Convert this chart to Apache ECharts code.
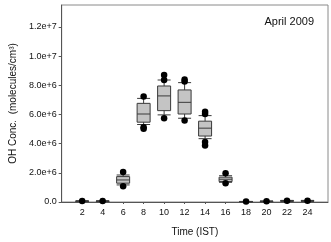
<!DOCTYPE html>
<html>
<head>
<meta charset="utf-8">
<script src="https://cdn.jsdelivr.net/npm/echarts@6/dist/echarts.min.js"></script>
<style>
    html, body { margin: 0; padding: 0; background: #fff; }
    #chart { width: 331px; height: 242px; }
</style>
</head>
<body>
<div id="chart"></div>
<script>
// hours (IST); 0 and 26 are only padding slots on the axis
var hours = ['0', '2', '4', '6', '8', '10', '12', '14', '16', '18', '20', '22', '24', '26'];

// [hour, lower whisker, Q1, median, Q3, upper whisker], molecules/cm3
var boxStats = [
    ['2', 30000, 45000, 55000, 65000, 80000],
    ['4', 30000, 45000, 55000, 65000, 80000],
    ['6', 1170000, 1290000, 1510000, 1740000, 1850000],
    ['8', 5310000, 5470000, 6030000, 6760000, 7100000],
    ['10', 5970000, 6260000, 7270000, 7950000, 8360000],
    ['12', 5740000, 6030000, 6830000, 7680000, 8180000],
    ['14', 4340000, 4520000, 5060000, 5540000, 5920000],
    ['16', 1350000, 1400000, 1560000, 1700000, 1800000],
    ['18', 10000, 20000, 25000, 30000, 40000],
    ['20', 20000, 35000, 45000, 55000, 65000],
    ['22', 40000, 60000, 75000, 90000, 110000],
    ['24', 40000, 60000, 75000, 90000, 110000]
];

// points outside the whiskers
var outliers = [
    ['2', 60000], ['4', 60000],
    ['6', 2060000], ['6', 1080000],
    ['8', 7230000], ['8', 5130000], ['8', 5020000],
    ['10', 8700000], ['10', 8360000], ['10', 5740000],
    ['12', 8400000], ['12', 8250000], ['12', 5580000],
    ['14', 6190000], ['14', 6030000], ['14', 4120000], ['14', 3880000],
    ['16', 1970000], ['16', 1290000],
    ['18', 30000], ['20', 50000], ['22', 90000], ['24', 90000]
];

var yTicks = { min: 0, max: 13500000, step: 2000000 };

var chart = echarts.init(document.getElementById('chart'));
var font = 'Liberation Sans, Arial, sans-serif';

chart.setOption({
    animation: false,
    textStyle: { fontFamily: font },
    title: {
        text: 'April 2009',
        right: 12,
        top: 11,
        textStyle: { fontSize: 11, fontWeight: 'normal', color: '#111', fontFamily: font }
    },
    grid: {
        left: 51,
        right: 2,
        top: 5,
        bottom: 37,
        show: true,
        borderColor: '#8a8a8a',
        borderWidth: 1
    },
    xAxis: {
        type: 'category',
        data: hours,
        boundaryGap: false,
        name: 'Time (IST)',
        nameLocation: 'middle',
        nameGap: 25,
        nameTextStyle: { fontSize: 10, color: '#111' },
        axisLine: { lineStyle: { color: '#555' } },
        axisTick: {
            length: 2,
            interval: function (i, v) { return v !== '0' && v !== '26'; },
            lineStyle: { color: '#555' }
        },
        axisLabel: {
            fontSize: 9,
            color: '#111',
            margin: 6,
            interval: 0,
            formatter: function (v) { return (v === '0' || v === '26') ? '' : v; }
        },
        splitLine: { show: false }
    },
    yAxis: {
        type: 'value',
        min: yTicks.min,
        max: yTicks.max,
        interval: yTicks.step,
        name: 'OH Conc.  (molecules/cm\u00B3)',
        nameLocation: 'middle',
        nameGap: 38,
        nameTextStyle: { fontSize: 10, color: '#111' },
        axisLine: { show: true, lineStyle: { color: '#555' } },
        axisTick: { show: true, length: 3, lineStyle: { color: '#555' } },
        axisLabel: {
            fontSize: 9,
            color: '#111',
            margin: 5,
            showMaxLabel: false,
            formatter: function (v) {
                return v === 0 ? '0.0' : v.toExponential(1);
            }
        },
        splitLine: { show: false }
    },
    series: [
        {
            type: 'boxplot',
            data: boxStats,
            encode: { x: 0, y: [1, 2, 3, 4, 5] },
            boxWidth: [13, 13],
            itemStyle: { color: '#c4c4c4', borderColor: '#3a3a3a', borderWidth: 1 }
        },
        {
            type: 'scatter',
            data: outliers,
            symbolSize: 6.5,
            itemStyle: { color: '#000', opacity: 1 }
        }
    ]
});
</script>
</body>
</html>
